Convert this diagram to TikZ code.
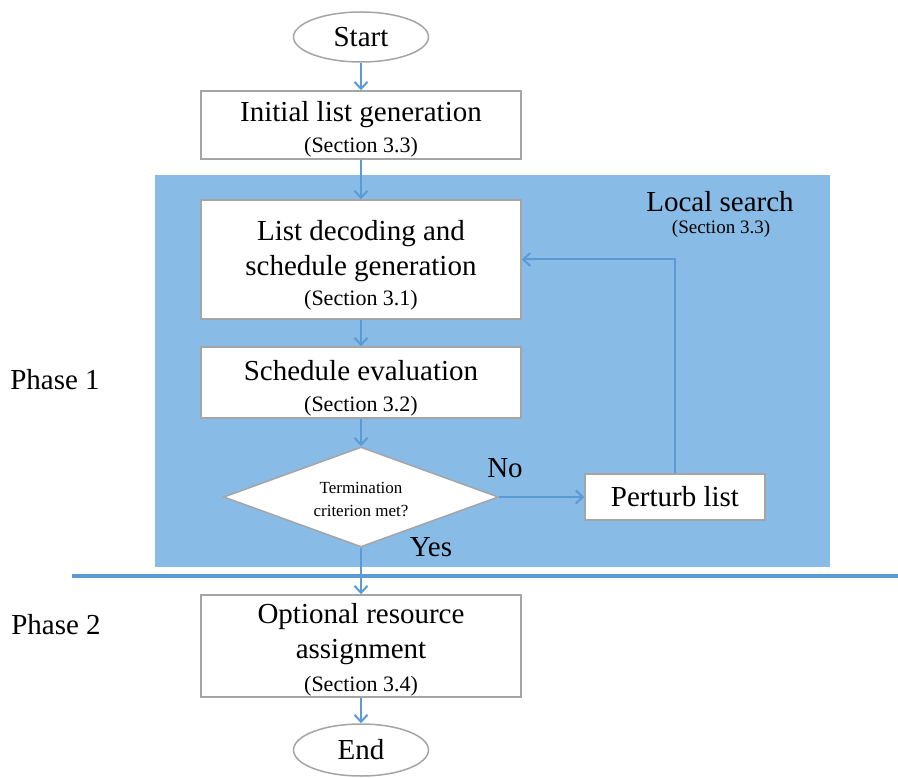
\documentclass[tikz,border=0pt]{standalone}
\usepackage{fontspec}
\setmainfont{Liberation Serif}
\usetikzlibrary{shapes.geometric,arrows.meta}
\definecolor{lsblue}{RGB}{136,187,230}
\definecolor{arrowblue}{RGB}{91,155,213}
\definecolor{boxgray}{RGB}{165,165,165}
\newcommand{\mainsz}{\fontsize{29}{35}\selectfont}
\newcommand{\secsz}{\fontsize{22}{30}\selectfont}
\newcommand{\smsec}{\fontsize{19}{22}\selectfont}
\newcommand{\dsz}{\fontsize{17}{23}\selectfont}
\begin{document}
\begin{tikzpicture}[x=1pt,y=-1pt,
  procbox/.style={draw=boxgray, line width=1.5pt, fill=white, minimum width=320pt, inner sep=0pt},
  txt/.style={inner sep=0pt, align=center, font=\mainsz},
  term/.style={ellipse, draw=boxgray, line width=1.5pt, fill=white, minimum width=135pt, minimum height=50pt, inner sep=0pt, font=\mainsz},
  flow/.style={draw=arrowblue, line width=2pt, -{Straight Barb[length=7pt,width=13pt,line width=2pt]}},
  lbl/.style={inner sep=0pt, font=\mainsz}]
\useasboundingbox (0,0) rectangle (898,778);
\node[fill=lsblue, minimum width=675pt, minimum height=392pt, inner sep=0pt] (lsregion) at (492.5,371) {};
\coordinate (hlA) at (72,576);
\coordinate (hlB) at (898,576);
\draw[arrowblue, line width=4pt] (hlA) -- (hlB);

\node[term] (start) at (361,37) {Start};

\node[procbox, minimum height=68pt] (init) at (361,125) {};
\node[txt] (initT) at ([yshift=-4pt]init.center) {Initial list generation\\[-4pt]{\secsz (Section 3.3)}};

\node[procbox, minimum height=119pt] (decode) at (361,259.5) {};
\node[txt] (decodeT) at ([yshift=-6pt]decode.center) {List decoding and\\schedule generation\\[-5pt]{\secsz (Section 3.1)}};

\node[procbox, minimum height=71pt] (eval) at (361,382.5) {};
\node[txt] (evalT) at ([yshift=-6pt]eval.center) {Schedule evaluation\\[-4pt]{\secsz (Section 3.2)}};

\node[diamond, aspect=2.75, draw=boxgray, line width=1.5pt, fill=white, minimum width=275pt, minimum height=100pt, inner sep=0pt] (crit) at (361,497) {};
\node[txt, font=\dsz] (critT) at ([yshift=-2pt]crit.center) {Termination\\criterion met?};

\node[procbox, minimum width=180pt, minimum height=46pt] (perturb) at (675,497) {};
\node[txt] (perturbT) at (perturb.center) {Perturb list};

\node[procbox, minimum height=102pt] (optional) at (361,646) {};
\node[txt] (optionalT) at ([yshift=-4pt]optional.center) {Optional resource\\assignment\\[-2pt]{\secsz (Section 3.4)}};

\node[term, minimum height=52pt] (end) at (361,750) {End};

\node[lbl] (lstitle) at (720,202) {Local search};
\node[inner sep=0pt, font=\smsec] (lssec) at (721,229) {(Section 3.3)};
\node[lbl] (ph1) at (55,380) {Phase 1};
\node[lbl] (ph2) at (56,625) {Phase 2};
\node[lbl] (nolbl) at (505,468) {No};
\node[lbl] (yeslbl) at (431,547) {Yes};

\draw[flow] (start) -- (init);
\draw[flow] (init) -- (decode);
\draw[flow] (decode) -- (eval);
\draw[flow] (eval) -- (crit);
\draw[flow] (crit.east) -- (perturb.west);
\draw[flow] (perturb.north) |- (decode.east);
\draw[flow] (crit.south) -- (optional.north);
\draw[flow] (optional) -- (end);
\end{tikzpicture}
\end{document}
